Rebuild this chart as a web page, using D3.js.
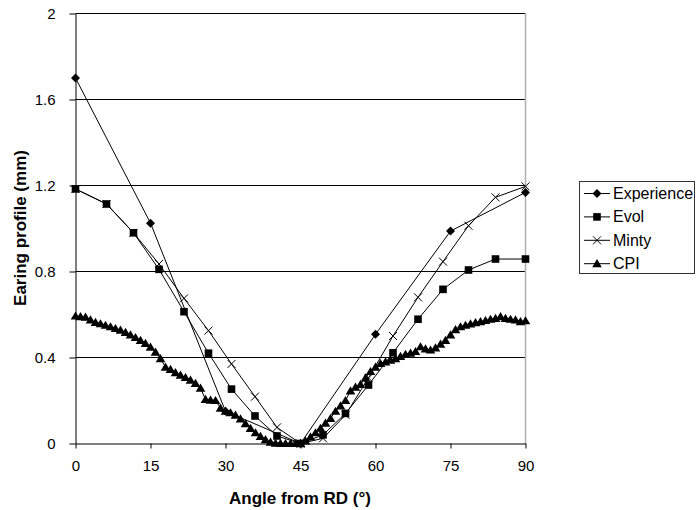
<!DOCTYPE html>
<html>
<head>
<meta charset="utf-8">
<script src="https://cdn.jsdelivr.net/npm/d3@7"></script>
<style>
body { margin: 0; background: #fff; }
text { font-family: "Liberation Sans", Arial, sans-serif; }
</style>
</head>
<body>
<div id="chart"></div>
<script>
// Angles (deg) and earing heights (mm)
var expAngle = [0, 15, 30, 45, 60, 75, 90];
var expValue = [1.70, 1.025, 0.15, 0, 0.508, 0.988, 1.168];

var evolAngle = [0, 6.2, 11.6, 16.7, 21.7, 26.6, 31.2, 35.9, 40.3, 45, 49.5, 54, 58.6, 63.5, 68.5, 73.5, 78.6, 84, 90];
var evolValue = [1.184, 1.114, 0.98, 0.81, 0.613, 0.42, 0.253, 0.128, 0.035, 0, 0.04, 0.14, 0.272, 0.422, 0.578, 0.717, 0.807, 0.858, 0.858];

var mintyAngle = evolAngle;
var mintyValue = [1.184, 1.114, 0.98, 0.835, 0.675, 0.525, 0.37, 0.218, 0.075, 0, 0.024, 0.133, 0.305, 0.50, 0.68, 0.846, 1.013, 1.145, 1.196];

var cpiAngle = d3.range(0, 91);
var cpiValue = [
	0.593, 0.590, 0.588, 0.575, 0.563, 0.557, 0.550, 0.543, 0.535, 0.527,
	0.517, 0.505, 0.493, 0.480, 0.466, 0.448, 0.425, 0.395, 0.355, 0.345,
	0.330, 0.318, 0.307, 0.295, 0.280, 0.258, 0.205, 0.202, 0.200, 0.165,
	0.150, 0.143, 0.132, 0.115, 0.092, 0.070, 0.050, 0.033, 0.018, 0.006,
	0.002, 0.001, 0.000, 0.000, 0.000, 0.000, 0.012, 0.031, 0.050, 0.071,
	0.095, 0.117, 0.150, 0.175, 0.200, 0.245, 0.262, 0.275, 0.305, 0.335,
	0.355, 0.372, 0.380, 0.388, 0.395, 0.405, 0.415, 0.420, 0.428, 0.450,
	0.440, 0.435, 0.445, 0.462, 0.480, 0.505, 0.530, 0.543, 0.550, 0.556,
	0.562, 0.567, 0.572, 0.578, 0.582, 0.590, 0.582, 0.578, 0.575, 0.567,
	0.571
];

var xTicks = [0, 15, 30, 45, 60, 75, 90];
var yTicks = [0, 0.4, 0.8, 1.2, 1.6, 2];
var yTickLabels = ["0", "0.4", "0.8", "1.2", "1.6", "2"];

var seriesNames = ["Experience", "Evol", "Minty", "CPI"];
var seriesMarkers = ["diamond", "square", "cross", "triangle"];

var series = [
	{ name: seriesNames[0], marker: seriesMarkers[0], angle: expAngle, value: expValue },
	{ name: seriesNames[1], marker: seriesMarkers[1], angle: evolAngle, value: evolValue },
	{ name: seriesNames[2], marker: seriesMarkers[2], angle: mintyAngle, value: mintyValue },
	{ name: seriesNames[3], marker: seriesMarkers[3], angle: cpiAngle, value: cpiValue }
];

var width = 696, height = 510;

var x = d3.scaleLinear().domain([0, 90]).range([75.5, 525.5]);
var y = d3.scaleLinear().domain([0, 2]).range([443.5, 13.5]);

var svg = d3.select("#chart")
	.append("svg")
	.attr("width", width)
	.attr("height", height);

//Marker shapes drawn around (0,0)
function markerPath(type)
{
	if (type == "diamond") return "M0,-4.5L4.5,0L0,4.5L-4.5,0Z";
	if (type == "square") return "M-3.8,-3.8H3.8V3.8H-3.8Z";
	if (type == "cross") return "M-4,-4L4,4M-4,4L4,-4";
	return "M0,-4.6L4.8,3.6H-4.8Z";
}

//Gridlines
svg.append("g")
	.selectAll("line")
	.data(yTicks.slice(1))
	.enter().append("line")
	.attr("x1", x(0))
	.attr("x2", x(90))
	.attr("y1", function(d) { return y(d); })
	.attr("y2", function(d) { return y(d); })
	.style("stroke", "#000")
	.style("stroke-width", "1");

//Plot area right border
svg.append("line")
	.attr("x1", x(90))
	.attr("x2", x(90))
	.attr("y1", y(2))
	.attr("y2", y(0))
	.style("stroke", "#b0b0b0")
	.style("stroke-width", "1.5");

//Axes
var xAxis = svg.append("g")
	.attr("transform", "translate(0," + y(0) + ")")
	.call(d3.axisBottom(x).tickValues(xTicks).tickSize(5).tickSizeOuter(0).tickPadding(12));
var yAxis = svg.append("g")
	.attr("transform", "translate(" + x(0) + ",0)")
	.call(d3.axisLeft(y).tickValues(yTicks).tickFormat(function(d, i) { return yTickLabels[i]; })
		.tickSize(6).tickSizeOuter(0).tickPadding(14));

[xAxis, yAxis].forEach(function(ax) {
	ax.select(".domain").style("stroke", "#000");
	ax.selectAll(".tick line").style("stroke", "#000");
	ax.selectAll("text")
		.style("font-family", "Liberation Sans, Arial, sans-serif")
		.style("font-size", "15px")
		.style("fill", "#000");
});

//Series lines and markers
var line = d3.line()
	.x(function(d) { return x(d[0]); })
	.y(function(d) { return y(d[1]); });

series.forEach(function(s) {
	var pts = s.angle.map(function(a, i) { return [a, s.value[i]]; });
	var g = svg.append("g");
	g.append("path")
		.datum(pts)
		.attr("d", line)
		.style("fill", "none")
		.style("stroke", "#000")
		.style("stroke-width", "1");
	g.selectAll("path.m")
		.data(pts)
		.enter().append("path")
		.attr("class", "m")
		.attr("d", markerPath(s.marker))
		.attr("transform", function(d) { return "translate(" + x(d[0]) + "," + y(d[1]) + ")"; })
		.style("fill", s.marker == "cross" ? "none" : "#000")
		.style("stroke", "#000")
		.style("stroke-width", s.marker == "cross" ? "1" : "0");
});

//Axis titles
svg.append("text")
	.attr("x", 300)
	.attr("y", 504)
	.attr("text-anchor", "middle")
	.style("font-size", "17px")
	.style("font-weight", "bold")
	.text("Angle from RD (°)");
svg.append("text")
	.attr("transform", "translate(26,228) rotate(-90)")
	.attr("text-anchor", "middle")
	.style("font-size", "17px")
	.style("font-weight", "bold")
	.text("Earing profile (mm)");

//Legend
var legend = svg.append("g");
legend.append("rect")
	.attr("x", 579.5)
	.attr("y", 181.5)
	.attr("width", 115)
	.attr("height", 92)
	.style("fill", "#fff")
	.style("stroke", "#333")
	.style("stroke-width", "1");

var entry = legend.selectAll("g.entry")
	.data(series)
	.enter().append("g")
	.attr("class", "entry")
	.attr("transform", function(d, i) { return "translate(0," + (193.5 + i * 23.4) + ")"; });
entry.append("line")
	.attr("x1", 584)
	.attr("x2", 610)
	.style("stroke", "#000")
	.style("stroke-width", "1");
entry.append("path")
	.attr("d", function(d) { return markerPath(d.marker); })
	.attr("transform", "translate(597,0)")
	.style("fill", function(d) { return d.marker == "cross" ? "none" : "#000"; })
	.style("stroke", "#000")
	.style("stroke-width", function(d) { return d.marker == "cross" ? "1" : "0"; });
entry.append("text")
	.attr("x", 613)
	.attr("y", 5.5)
	.style("font-size", "16px")
	.text(function(d) { return d.name; });
</script>
</body>
</html>
